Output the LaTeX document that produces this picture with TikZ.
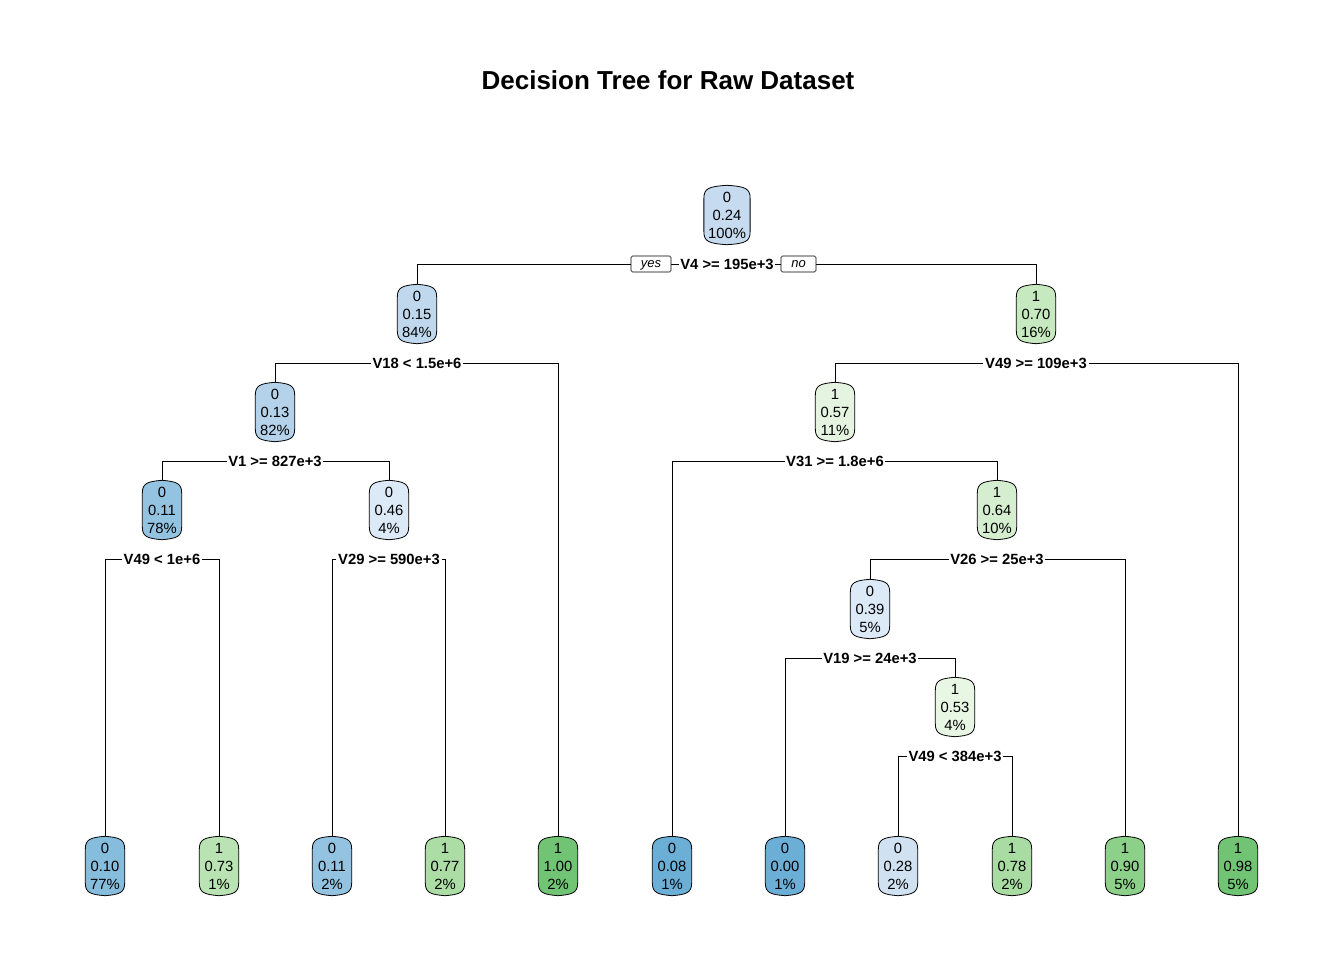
\documentclass[tikz,border=0pt]{standalone}
\usepackage{fontspec}
\setmainfont{Liberation Sans}
\usetikzlibrary{calc}
\pgfdeclarelayer{bg}
\pgfsetlayers{bg,main}
\definecolor{b024}{HTML}{C6DBEF}
\definecolor{b015}{HTML}{C0D8EE}
\definecolor{b013}{HTML}{B4D3EA}
\definecolor{b011}{HTML}{93C3E0}
\definecolor{b010}{HTML}{86BDDD}
\definecolor{b008}{HTML}{6BAED6}
\definecolor{b046}{HTML}{DCE9F6}
\definecolor{b039}{HTML}{DCE9F6}
\definecolor{b028}{HTML}{D0E2F2}
\definecolor{g053}{HTML}{E8F6E4}
\definecolor{g057}{HTML}{E5F4E0}
\definecolor{g064}{HTML}{D5EED0}
\definecolor{g070}{HTML}{C7E9C0}
\definecolor{g073}{HTML}{B9E3B2}
\definecolor{g077}{HTML}{ABDDA5}
\definecolor{g078}{HTML}{A8DCA3}
\definecolor{g090}{HTML}{8CD08A}
\definecolor{g098}{HTML}{71C474}
\newcommand\tl{\rule{0pt}{11.8pt}}
\newcommand\tbox[2]{%
  \begin{pgfonlayer}{bg}
  \filldraw[fill=#2, line width=0.8pt]
    let \p1=(#1.north west), \p2=(#1.south east), \n1={0.5*(\x1+\x2)} in
    (\x1,\y1-13pt) .. controls (\x1,\y1-3pt) and (\x1+5pt,\y1-1.2pt) .. (\n1,\y1)
    .. controls (\x2-5pt,\y1-1.2pt) and (\x2,\y1-3pt) .. (\x2,\y1-13pt)
    -- (\x2,\y2+13pt)
    .. controls (\x2,\y2+3pt) and (\x2-5pt,\y2+1.2pt) .. (\n1,\y2)
    .. controls (\x1+5pt,\y2+1.2pt) and (\x1,\y2+3pt) .. (\x1,\y2+13pt) -- cycle;
  \end{pgfonlayer}}
\begin{document}
\begin{tikzpicture}[x=1pt,y=-1pt,
  tn/.style={align=center, inner xsep=4pt, inner ysep=0pt,
    minimum height=59pt, minimum width=39pt,
    font=\fontsize{14.8}{18}\selectfont},
  sl/.style={fill=white, inner xsep=1.5pt, inner ysep=1pt,
    font=\bfseries\fontsize{14.8}{16}\selectfont},
  yn/.style={draw, fill=white, rounded corners=1.5pt, line width=0.6pt,
    font=\itshape\fontsize{13}{14}\selectfont, minimum height=16pt, inner sep=0pt,
    text height=8pt, text depth=1.5pt},
  ed/.style={line width=0.7pt}]
\useasboundingbox (0,0) rectangle (1344,960);
\node[font=\bfseries\fontsize{26}{30}\selectfont] (title) at (668,80) {Decision Tree for Raw Dataset};
% internal nodes
\node[tn] (n1) at (727,215) {\tl 0\\0.24\\100\%};
\node[sl] (s1) at (727,264) {V4 >= 195e+3};
\node[tn] (n2) at (417,314) {\tl 0\\0.15\\84\%};
\node[tn] (n3) at (1036,314) {\tl 1\\0.70\\16\%};
\node[sl] (s2) at (417,363) {V18 < 1.5e+6};
\node[sl] (s3) at (1036,363) {V49 >= 109e+3};
\node[tn] (n4) at (275,412) {\tl 0\\0.13\\82\%};
\node[tn] (n6) at (835,412) {\tl 1\\0.57\\11\%};
\node[sl] (s4) at (275,461) {V1 >= 827e+3};
\node[sl] (s6) at (835,461) {V31 >= 1.8e+6};
\node[tn] (n8) at (162,510) {\tl 0\\0.11\\78\%};
\node[tn] (n9) at (389,510) {\tl 0\\0.46\\4\%};
\node[tn] (n11) at (997,510) {\tl 1\\0.64\\10\%};
\node[sl] (s8) at (162,559) {V49 < 1e+6};
\node[sl] (s9) at (389,559) {V29 >= 590e+3};
\node[sl] (s11) at (997,559) {V26 >= 25e+3};
\node[tn] (n16) at (870,609) {\tl 0\\0.39\\5\%};
\node[sl] (s16) at (870,658) {V19 >= 24e+3};
\node[tn] (n19) at (955,707) {\tl 1\\0.53\\4\%};
\node[sl] (s19) at (955,756) {V49 < 384e+3};
% leaves
\node[tn] (n12) at (105,866) {\tl 0\\0.10\\77\%};
\node[tn] (n13) at (219,866) {\tl 1\\0.73\\1\%};
\node[tn] (n14) at (332,866) {\tl 0\\0.11\\2\%};
\node[tn] (n15) at (445,866) {\tl 1\\0.77\\2\%};
\node[tn] (n5) at (558,866) {\tl 1\\1.00\\2\%};
\node[tn] (n10) at (672,866) {\tl 0\\0.08\\1\%};
\node[tn] (n18) at (785,866) {\tl 0\\0.00\\1\%};
\node[tn] (n20) at (898,866) {\tl 0\\0.28\\2\%};
\node[tn] (n21) at (1012,866) {\tl 1\\0.78\\2\%};
\node[tn] (n17) at (1125,866) {\tl 1\\0.90\\5\%};
\node[tn] (n7) at (1238,866) {\tl 1\\0.98\\5\%};
% node boxes
\tbox{n1}{b024}\tbox{n2}{b015}\tbox{n3}{g070}\tbox{n4}{b013}
\tbox{n6}{g057}\tbox{n8}{b011}\tbox{n9}{b046}\tbox{n11}{g064}
\tbox{n16}{b039}\tbox{n19}{g053}
\tbox{n12}{b010}\tbox{n13}{g073}\tbox{n14}{b011}\tbox{n15}{g077}
\tbox{n5}{g098}\tbox{n10}{b008}\tbox{n18}{b008}\tbox{n20}{b028}
\tbox{n21}{g078}\tbox{n17}{g090}\tbox{n7}{g098}
% edges
\draw[ed] (s1.west) -| (n2.north);
\draw[ed] (s1.east) -| (n3.north);
\draw[ed] (s2.west) -| (n4.north);
\draw[ed] (s2.east) -| (n5.north);
\draw[ed] (s3.west) -| (n6.north);
\draw[ed] (s3.east) -| (n7.north);
\draw[ed] (s4.west) -| (n8.north);
\draw[ed] (s4.east) -| (n9.north);
\draw[ed] (s6.west) -| (n10.north);
\draw[ed] (s6.east) -| (n11.north);
\draw[ed] (s8.west) -| (n12.north);
\draw[ed] (s8.east) -| (n13.north);
\draw[ed] (s9.west) -| (n14.north);
\draw[ed] (s9.east) -| (n15.north);
\draw[ed] (s11.west) -| (n16.north);
\draw[ed] (s11.east) -| (n17.north);
\draw[ed] (s16.west) -| (n18.north);
\draw[ed] (s16.east) -| (n19.north);
\draw[ed] (s19.west) -| (n20.north);
\draw[ed] (s19.east) -| (n21.north);
\node[yn, minimum width=40pt] (yes) at (651,264) {yes};
\node[yn, minimum width=35pt] (no) at (798.5,264) {no};
\end{tikzpicture}
\end{document}
